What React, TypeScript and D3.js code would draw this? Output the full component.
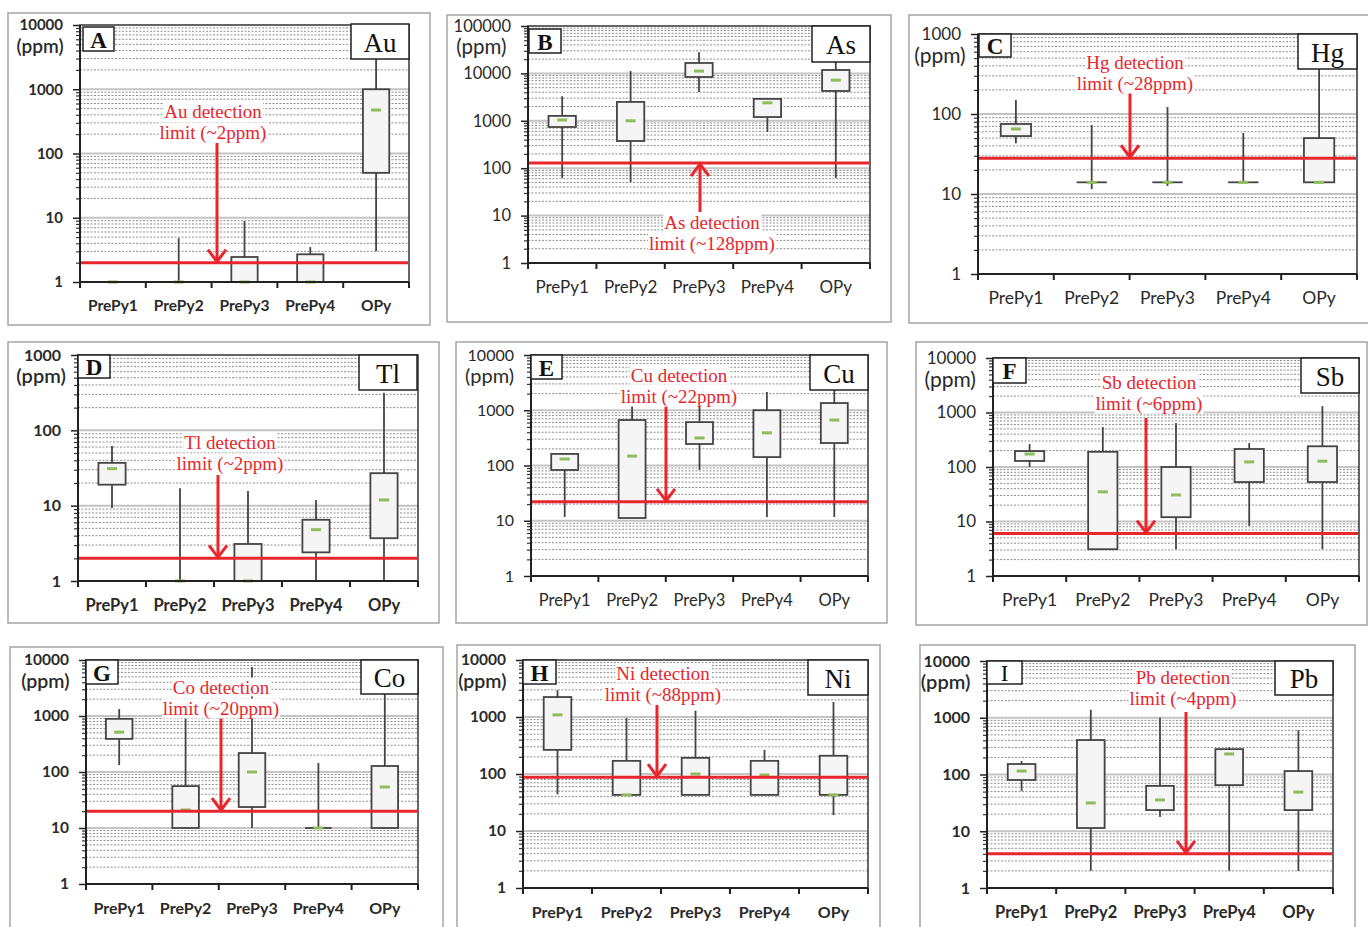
import React, { useEffect, useRef } from "react";
import * as d3 from "d3";

const categories = ["PrePy1", "PrePy2", "PrePy3", "PrePy4", "OPy"];

// [min, q1, median, q3, max] per category, ppm
const auStats = [[1, 1, 1, 1, 1], [1, 1, 1, 1, 4.8], [1, 1, 1, 2.45, 8.9], [1, 1, 1, 2.7, 3.5], [3, 50, 475, 1000, 3500]];
const asStats = [[62, 740, 1040, 1270, 3300], [51, 375, 1000, 2500, 11200], [4070, 8400, 11200, 16600, 28000], [580, 1200, 2400, 2900, 2900], [62, 4260, 7200, 11800, 20000]];
const hgStats = [[43, 53, 65, 75, 150], [11.5, 14, 14, 14, 73], [12.6, 14, 14, 14, 122], [14, 14, 14, 14, 58], [14, 14, 14, 50, 400]];
const tlStats = [[9.3, 19, 31, 37, 62], [1, 1, 1, 1, 17], [1, 1, 1, 3.1, 15.7], [1, 2.4, 4.8, 6.5, 11.9], [1, 3.7, 11.9, 27, 315]];
const cuStats = [[11.7, 83, 131, 162, 165], [11.2, 11.2, 148, 665, 1350], [83, 245, 315, 610, 1400], [11.7, 142, 390, 1000, 2150], [11.7, 255, 665, 1350, 2300]];
const sbStats = [[100, 129, 173, 196, 263], [3.1, 3.1, 35, 190, 540], [3.1, 12, 30.7, 100, 645], [8.3, 53, 124, 214, 276], [3.1, 53, 128, 240, 1310]];
const coStats = [[133, 390, 515, 890, 1330], [10, 10, 21, 56, 920], [10, 23.7, 100, 218, 7500], [10, 10, 10, 10, 145], [10, 10, 54, 128, 2500]];
const niStats = [[44, 265, 1090, 2240, 2960], [43, 43, 43, 170, 960], [43, 43, 100, 192, 1290], [43, 43, 96, 170, 265], [19, 43, 43, 209, 1830]];
const pbStats = [[51, 80, 115, 153, 173], [2, 11.4, 31.5, 405, 1380], [17.8, 23.6, 35.6, 63, 1000], [2, 65, 230, 280, 303], [2, 23.6, 49, 115, 605]];

const panelLetters = ["A", "B", "C", "D", "E", "F", "G", "H", "I"];
const elements = ["Au", "As", "Hg", "Tl", "Cu", "Sb", "Co", "Ni", "Pb"];
const detectionLimits = [2, 128, 28, 2, 22, 6, 20, 88, 4];
const yMaxes = [1e4, 1e5, 1e3, 1e3, 1e4, 1e4, 1e4, 1e4, 1e4];
const statsByPanel = [auStats, asStats, hgStats, tlStats, cuStats, sbStats, coStats, niStats, pbStats];

// page layout (pixels)
const layouts = [
  { frame: [8, 13, 430, 325], plot: [80, 25, 409, 282], letter: [83, 27, 114, 51], elem: [351, 24, 409, 59], arrowX: 217, tail: 143, textX: 213, textY: 111, fs: 15, bold: true },
  { frame: [447, 15, 891, 322], plot: [528, 26, 870, 263], letter: [529, 29, 561, 53], elem: [812, 26, 870, 62], arrowX: 700, tail: 212, textX: 712, textY: 222, fs: 16.5, bold: false },
  { frame: [909, 15, 1372, 323], plot: [978, 34, 1357, 274], letter: [979, 34, 1011, 57], elem: [1298, 34, 1357, 69], arrowX: 1130, tail: 92, textX: 1135, textY: 62, fs: 17, bold: false },
  { frame: [8, 342, 439, 623], plot: [78, 355, 418, 581], letter: [78, 355, 110, 378], elem: [359, 355, 417, 390], arrowX: 218, tail: 475, textX: 230, textY: 442, fs: 16, bold: true },
  { frame: [456, 342, 887, 623], plot: [531, 355, 868, 576], letter: [531, 355, 562, 379], elem: [810, 355, 868, 390], arrowX: 666, tail: 407, textX: 679, textY: 375, fs: 16, bold: false },
  { frame: [916, 342, 1367, 625], plot: [993, 358, 1359, 576], letter: [993, 358, 1026, 383], elem: [1301, 358, 1359, 393], arrowX: 1146, tail: 418, textX: 1149, textY: 382, fs: 17, bold: false },
  { frame: [10, 647, 443, 935], plot: [86, 660, 418, 884], letter: [86, 660, 118, 684], elem: [361, 660, 418, 694], arrowX: 221, tail: 718, textX: 221, textY: 687, fs: 15.5, bold: true },
  { frame: [457, 645, 880, 935], plot: [523, 660, 868, 888], letter: [523, 660, 556, 684], elem: [808, 660, 868, 695], arrowX: 657, tail: 705, textX: 663, textY: 673, fs: 15.5, bold: true },
  { frame: [920, 645, 1355, 935], plot: [987, 661, 1333, 888], letter: [987, 661, 1022, 684], elem: [1275, 661, 1333, 695], arrowX: 1186, tail: 712, textX: 1183, textY: 677, fs: 16, bold: true },
];

const RED = "#e8262c";
const SANS = "Lato, 'Open Sans', sans-serif";
const SERIF = "'Liberation Serif', 'Times New Roman', serif";

const App = () => {
  const ref = useRef<SVGSVGElement>(null);

  useEffect(() => {
    const svg = d3.select(ref.current);
    svg.selectAll("*").remove();

    layouts.forEach((L, i) => {
      const [l, t, r, b] = L.plot;
      const yMax = yMaxes[i];
      const nDec = Math.round(Math.log10(yMax));
      const y = d3.scaleLog().domain([1, yMax]).range([b, t]);
      const x = d3.scaleBand().domain(categories).range([l, r]);
      const g = svg.append("g");

      const [fx0, fy0, fx1, fy1] = L.frame;
      g.append("rect")
        .attr("x", fx0).attr("y", fy0)
        .attr("width", fx1 - fx0).attr("height", fy1 - fy0)
        .attr("fill", "#fff").attr("stroke", "#a5a5a5").attr("stroke-width", 1.5);

      const majors = d3.range(0, nDec + 1).map((n) => Math.pow(10, n));
      const minors: number[] = [];
      for (let n = 0; n < nDec; n++) {
        for (let k = 2; k <= 9; k++) minors.push(k * Math.pow(10, n));
      }

      // gridlines
      g.selectAll(".minor")
        .data(minors)
        .join("line")
        .attr("x1", l).attr("x2", r)
        .attr("y1", (d) => y(d)).attr("y2", (d) => y(d))
        .attr("stroke", "#8f8f8f").attr("stroke-width", 1)
        .attr("stroke-dasharray", "2,1.5");
      g.selectAll(".major")
        .data(majors.slice(1, -1))
        .join("line")
        .attr("x1", l).attr("x2", r)
        .attr("y1", (d) => y(d)).attr("y2", (d) => y(d))
        .attr("stroke", "#c4c4c4").attr("stroke-width", 2);

      // boxes
      const stats = statsByPanel[i];
      const bw = x.bandwidth() * 0.4;
      categories.forEach((c, j) => {
        const [mn, q1, med, q3, mx] = stats[j];
        const cx = (x(c) as number) + x.bandwidth() / 2;
        g.append("line")
          .attr("x1", cx).attr("x2", cx)
          .attr("y1", y(mx)).attr("y2", y(mn))
          .attr("stroke", "#444").attr("stroke-width", 1.8);
        const h = y(q1) - y(q3);
        if (h > 1) {
          g.append("rect")
            .attr("x", cx - bw / 2).attr("y", y(q3))
            .attr("width", bw).attr("height", h)
            .attr("fill", "#f4f5f4").attr("stroke", "#444").attr("stroke-width", 1.8);
        } else if (q1 > 1) {
          g.append("line")
            .attr("x1", cx - bw / 2).attr("x2", cx + bw / 2)
            .attr("y1", y(q1)).attr("y2", y(q1))
            .attr("stroke", "#444").attr("stroke-width", 1.8);
        }
        g.append("rect")
          .attr("x", cx - 5).attr("y", y(med) - 1.5)
          .attr("width", 10).attr("height", 3)
          .attr("fill", "#8fbc5c");
      });

      // plot border
      g.append("rect")
        .attr("x", l).attr("y", t).attr("width", r - l).attr("height", b - t)
        .attr("fill", "none").attr("stroke", "#333").attr("stroke-width", 1.5);

      // detection limit
      const dy = y(detectionLimits[i]);
      g.append("line")
        .attr("x1", l + 1).attr("x2", r - 1)
        .attr("y1", dy).attr("y2", dy)
        .attr("stroke", RED).attr("stroke-width", 3);
      const dir = L.tail < dy ? 1 : -1;
      g.append("line")
        .attr("x1", L.arrowX).attr("x2", L.arrowX)
        .attr("y1", L.tail).attr("y2", dy - dir * 1)
        .attr("stroke", RED).attr("stroke-width", 3);
      g.append("polyline")
        .attr("points", `${L.arrowX - 9},${dy - dir * 13} ${L.arrowX},${dy - dir * 1} ${L.arrowX + 9},${dy - dir * 13}`)
        .attr("fill", "none").attr("stroke", RED).attr("stroke-width", 3);

      const lines = [`${elements[i]} detection`, `limit (~${detectionLimits[i]}ppm)`];
      lines.forEach((txt, k) => {
        const tx = g.append("text")
          .attr("x", L.textX).attr("y", L.textY + k * 21)
          .attr("text-anchor", "middle").attr("dominant-baseline", "central")
          .attr("font-family", SERIF).attr("font-size", 19)
          .attr("fill", RED).text(txt);
        const bb = (tx.node() as SVGTextElement).getBBox();
        g.insert("rect", () => tx.node() as any)
          .attr("x", bb.x - 1).attr("y", bb.y + 1)
          .attr("width", bb.width + 2).attr("height", bb.height - 2)
          .attr("fill", "#fff");
      });

      // y axis
      const yMinor = g.append("g").attr("transform", `translate(${l},0)`)
        .call(d3.axisLeft(y).tickValues(minors).tickSize(4).tickFormat(() => ""));
      yMinor.select(".domain").remove();
      yMinor.selectAll("line").attr("stroke", "#333").attr("stroke-width", 1.2);

      const yAx = g.append("g").attr("transform", `translate(${l},0)`)
        .call(d3.axisLeft(y).tickValues(majors).tickSize(7).tickPadding(10).tickFormat((d) => String(d)));
      yAx.select(".domain").remove();
      yAx.selectAll("line").attr("stroke", "#222").attr("stroke-width", 1.5);
      yAx.selectAll("text")
        .attr("font-family", SANS).attr("font-size", L.fs)
        .attr("font-weight", L.bold ? 700 : 400)
        .attr("fill", "#2a2a2a");

      g.append("text")
        .attr("x", l - 17 - (String(yMax).length * L.fs * 0.56) / 2 - 2)
        .attr("y", t + 20)
        .attr("text-anchor", "middle").attr("dominant-baseline", "central")
        .attr("font-family", SANS).attr("font-size", L.fs + 4)
        .attr("font-weight", L.bold ? 600 : 400)
        .attr("fill", "#2a2a2a").text("(ppm)");

      // x axis
      const xAx = g.append("g").attr("transform", `translate(0,${b})`)
        .call(d3.axisBottom(x).tickSize(0).tickPadding(0));
      xAx.select(".domain").remove();
      xAx.selectAll("text")
        .attr("y", 24).attr("dy", "0.35em")
        .attr("font-family", SANS).attr("font-size", L.fs + 0.5)
        .attr("font-weight", L.bold ? 700 : 400)
        .attr("fill", "#2a2a2a");
      const bounds = [...categories.map((c) => x(c) as number), r];
      g.selectAll(".xtick")
        .data(bounds)
        .join("line")
        .attr("x1", (d) => d).attr("x2", (d) => d)
        .attr("y1", b).attr("y2", b + 6)
        .attr("stroke", "#222").attr("stroke-width", 2);

      g.append("line")
        .attr("x1", l).attr("x2", l).attr("y1", t).attr("y2", b)
        .attr("stroke", "#222").attr("stroke-width", 2);
      g.append("line")
        .attr("x1", l).attr("x2", r).attr("y1", b).attr("y2", b)
        .attr("stroke", "#222").attr("stroke-width", 2);

      // panel letter and element boxes
      const [lx0, ly0, lx1, ly1] = L.letter;
      g.append("rect")
        .attr("x", lx0).attr("y", ly0).attr("width", lx1 - lx0).attr("height", ly1 - ly0)
        .attr("fill", "#fff").attr("stroke", "#222").attr("stroke-width", 1.5);
      g.append("text")
        .attr("x", (lx0 + lx1) / 2).attr("y", (ly0 + ly1) / 2 + 1)
        .attr("text-anchor", "middle").attr("dominant-baseline", "central")
        .attr("font-family", SERIF).attr("font-size", 23)
        .attr("font-weight", i === 8 ? 400 : 700)
        .attr("fill", "#111").text(panelLetters[i]);

      const [ex0, ey0, ex1, ey1] = L.elem;
      g.append("rect")
        .attr("x", ex0).attr("y", ey0).attr("width", ex1 - ex0).attr("height", ey1 - ey0)
        .attr("fill", "#fff").attr("stroke", "#222").attr("stroke-width", 1.5);
      g.append("text")
        .attr("x", (ex0 + ex1) / 2).attr("y", (ey0 + ey1) / 2 + 1)
        .attr("text-anchor", "middle").attr("dominant-baseline", "central")
        .attr("font-family", SERIF).attr("font-size", 27)
        .attr("fill", "#111").text(elements[i]);
    });
  }, []);

  return (
    <svg
      ref={ref}
      width={1368}
      height={927}
      style={{ position: "absolute", left: 0, top: 0, background: "#fff" }}
    />
  );
};

export default App;
